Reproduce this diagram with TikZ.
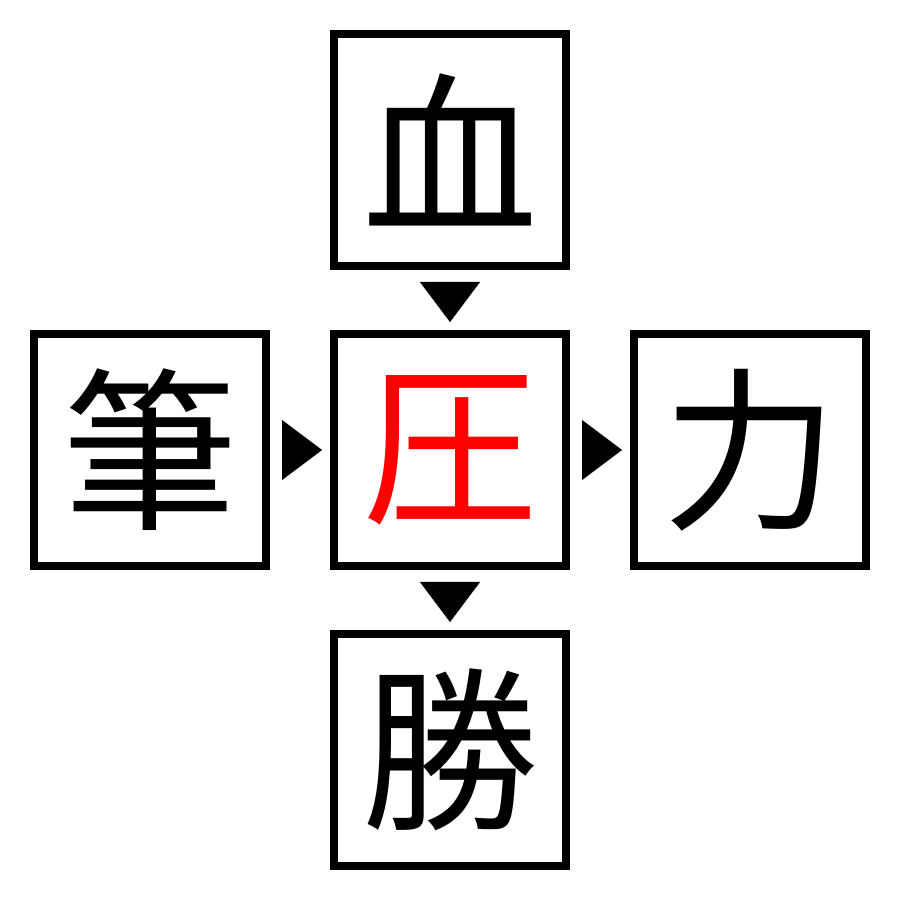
\documentclass[tikz,border=0pt]{standalone}
\usepackage{fontspec}
\newfontfamily\cjk{Noto Sans CJK JP}
\usetikzlibrary{arrows.meta,positioning}

\begin{document}
\begin{tikzpicture}[>={Triangle[length=4mm,width=6mm]},node distance=0.6cm,
    kanji box/.style={rectangle,draw,line width=0.8mm,minimum size=2.32cm,inner sep=0pt,
      font=\cjk\fontsize{50}{50}\selectfont},
    pointer/.style={->,line width=0.1pt,shorten <=1.2mm,shorten >=0.8mm}]
  \useasboundingbox (0,0) rectangle (9,9);
  \node[kanji box, red, draw=black] (atsu) at (4.5,4.5) {圧};
  \node[kanji box] (ketsu) [above=of atsu] {血};
  \node[kanji box] (hitsu) [left=of atsu] {筆};
  \node[kanji box] (ryoku) [right=of atsu] {力};
  \node[kanji box] (katsu) [below=of atsu] {勝};

  \draw[pointer] (ketsu) -- (atsu);
  \draw[pointer] (hitsu) -- (atsu);
  \draw[pointer] (atsu) -- (ryoku);
  \draw[pointer] (atsu) -- (katsu);
\end{tikzpicture}
\end{document}
